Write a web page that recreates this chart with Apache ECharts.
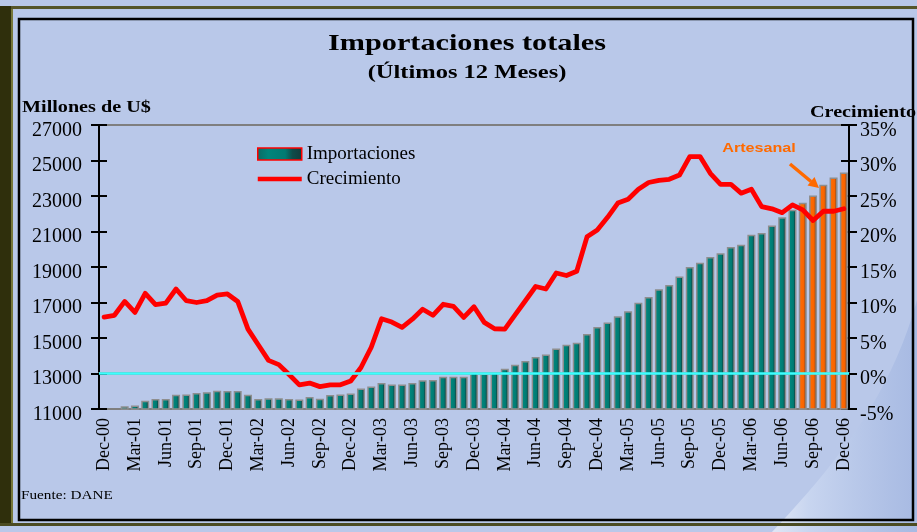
<!DOCTYPE html>
<html>
<head>
<meta charset="utf-8">
<script src="https://cdn.jsdelivr.net/npm/echarts@6/dist/echarts.min.js"></script>
<style>
html,body{margin:0;padding:0;background:#B9C8E9;}
#chart{width:917px;height:532px;}
</style>
</head>
<body>
<div id="chart"></div>
<script>
// ---- Data ----
const monthNames = ['Jan','Feb','Mar','Apr','May','Jun','Jul','Aug','Sep','Oct','Nov','Dec'];
const years = ['01','02','03','04','05','06'];
const categories = ['Dec-00'];
years.forEach(y => monthNames.forEach(m => categories.push(m + '-' + y)));

// Importaciones (millones de US$, últimos 12 meses)
const importaciones = [
  11000, 11000, 11150, 11200, 11470, 11560, 11560, 11800, 11820, 11900, 11950, 12030,
  12020, 12020, 11800, 11560, 11600, 11600, 11560, 11540, 11675, 11580, 11790, 11820,
  11880, 12160, 12270, 12460, 12385, 12385, 12460, 12620, 12630, 12820, 12820, 12820,
  13080, 13000, 13080, 13270, 13490, 13700, 13925, 14070, 14410, 14620, 14730, 15220,
  15620, 15880, 16220, 16510, 16980, 17310, 17750, 17985, 18470, 19000, 19240, 19560,
  19780, 20120, 20250, 20820, 20920, 21340, 21800, 22230, 22620, 23030, 23630, 24040,
  24320
];

// Crecimiento (%)
const crecimiento = [
  7.95, 8.2, 10.15, 8.6, 11.3, 9.7, 9.9, 11.9, 10.25, 10.0, 10.25, 11.05,
  11.2, 10.15, 6.25, 4.05, 1.85, 1.25, -0.15, -1.6, -1.35, -1.85, -1.6, -1.6,
  -1.05, 0.85, 3.7, 7.7, 7.25, 6.5, 7.65, 9.05, 8.2, 9.75, 9.45, 7.9,
  9.4, 7.2, 6.3, 6.25, 8.25, 10.25, 12.25, 11.9, 14.15, 13.8, 14.4, 19.25,
  20.2, 22.0, 24.0, 24.55, 25.95, 26.9, 27.2, 27.35, 27.95, 30.55, 30.55, 28.2,
  26.65, 26.65, 25.4, 25.95, 23.5, 23.2, 22.65, 23.75, 23.05, 21.55, 22.85, 22.85,
  23.2
];

// Months estimated "artesanal" (last months, orange)
const artesanalMonths = ['Aug-06', 'Sep-06', 'Oct-06', 'Nov-06', 'Dec-06'];

const leftTicks = { min: 11000, max: 27000, interval: 2000 };
const rightTicks = { min: -5, max: 35, interval: 5 };

// ---- Styles ----
const serif = 'Liberation Serif';
const tealGrad = { type: 'linear', x: 0, y: 0, x2: 1, y2: 0, colorStops: [
  { offset: 0, color: '#0b6a64' }, { offset: 0.25, color: '#00857b' },
  { offset: 0.62, color: '#007a72' }, { offset: 0.78, color: '#0f4c4a' }, { offset: 1, color: '#143a3a' } ] };
const orangeGrad = { type: 'linear', x: 0, y: 0, x2: 1, y2: 0, colorStops: [
  { offset: 0, color: '#e45a00' }, { offset: 0.25, color: '#ff6a00' },
  { offset: 0.62, color: '#f86400' }, { offset: 0.78, color: '#a4521c' }, { offset: 1, color: '#7c4722' } ] };

const barData = importaciones.map((v, i) => {
  if (artesanalMonths.indexOf(categories[i]) >= 0) {
    return { value: v, itemStyle: { color: orangeGrad } };
  }
  return v;
});

// decorative swoosh outline (bottom-right), sampled cubic curve
const swoosh = [];
(function () {
  const p0 = [917, 300], p1 = [890, 400], p2 = [830, 470], p3 = [772, 532];
  for (let k = 0; k <= 20; k++) {
    const t = k / 20, u = 1 - t;
    swoosh.push([
      u*u*u*p0[0] + 3*u*u*t*p1[0] + 3*u*t*t*p2[0] + t*t*t*p3[0],
      u*u*u*p0[1] + 3*u*u*t*p1[1] + 3*u*t*t*p2[1] + t*t*t*p3[1]
    ]);
  }
  swoosh.push([917, 532]);
})();

const chart = echarts.init(document.getElementById('chart'), null, { renderer: 'canvas' });

const axisLabelBase = { fontFamily: serif, fontSize: 20, color: '#000', verticalAlign: 'top', lineHeight: 11 };

const option = {
  backgroundColor: '#B9C8E9',
  animation: false,
  grid: { left: 99, right: 68, top: 125, bottom: 123, show: true,
          borderColor: '#7f7f7f', borderWidth: 2, backgroundColor: 'transparent' },
  legend: {
    orient: 'vertical', left: 252, top: 139, itemWidth: 44, itemHeight: 12, itemGap: 5,
    symbolKeepAspect: true,
    textStyle: { fontFamily: serif, fontSize: 19, color: '#000', lineHeight: 20 },
    data: [
      { name: 'Importaciones', icon: 'rect', itemStyle: { borderColor: '#ff0000', borderWidth: 1.5 } },
      { name: 'Crecimiento', icon: 'path://M0,0L44,0L44,4.5L0,4.5Z', itemStyle: { color: '#ff0000' } }
    ]
  },
  xAxis: {
    type: 'category', data: categories,
    axisLine: { lineStyle: { color: '#808080', width: 2.5 } },
    axisTick: { show: false },
    axisLabel: { interval: 2, rotate: 90, margin: 9, fontFamily: serif, fontSize: 18, color: '#000' },
    splitLine: { show: false }
  },
  yAxis: [
    { type: 'value', position: 'left', min: leftTicks.min, max: leftTicks.max, interval: leftTicks.interval,
      axisLine: { show: true, lineStyle: { color: '#000', width: 2 } },
      axisTick: { show: true, length: 8, lineStyle: { color: '#000', width: 2 } },
      axisLabel: Object.assign({ margin: 17, formatter: v => String(v) }, axisLabelBase),
      splitLine: { show: false } },
    { type: 'value', position: 'right', min: rightTicks.min, max: rightTicks.max, interval: rightTicks.interval,
      axisLine: { show: true, lineStyle: { color: '#000', width: 2 } },
      axisTick: { show: true, length: 8, lineStyle: { color: '#000', width: 2 } },
      axisLabel: Object.assign({ margin: 11, formatter: v => v + '%' }, axisLabelBase),
      splitLine: { show: false } },
    { type: 'value', position: 'left', min: leftTicks.min, max: leftTicks.max, interval: leftTicks.interval,
      axisLine: { show: false }, axisLabel: { show: false }, splitLine: { show: false },
      axisTick: { show: true, inside: true, length: 8, lineStyle: { color: '#000', width: 2 } } },
    { type: 'value', position: 'right', min: rightTicks.min, max: rightTicks.max, interval: rightTicks.interval,
      axisLine: { show: false }, axisLabel: { show: false }, splitLine: { show: false },
      axisTick: { show: true, inside: true, length: 8, lineStyle: { color: '#000', width: 2 } } }
  ],
  series: [
    { name: 'Importaciones', type: 'bar', yAxisIndex: 0, data: barData, barWidth: '78%',
      itemStyle: { color: tealGrad, borderColor: '#8e8e8e', borderWidth: 1.5 },
      markLine: { silent: true, symbol: 'none', label: { show: false },
        lineStyle: { color: '#3cffff', width: 2.5, type: 'solid' },
        data: [{ yAxis: 13000 }] } },
    { name: 'Crecimiento', type: 'line', yAxisIndex: 1, data: crecimiento, symbol: 'none', showSymbol: false,
      z: 4, lineStyle: { color: '#ff0000', width: 4.8, join: 'round', cap: 'round' },
      itemStyle: { color: '#ff0000' } }
  ],
  graphic: [
    { type: 'polygon', z: 0, silent: true, shape: { points: swoosh },
      style: { fill: { type: 'linear', x: 0, y: 0, x2: 1, y2: 0, colorStops: [
        { offset: 0, color: 'rgba(255,255,255,0.55)' }, { offset: 0.25, color: 'rgba(210,222,244,0.6)' },
        { offset: 1, color: 'rgba(150,172,220,0.5)' } ] } } },
    { type: 'rect', z: 1, silent: true, shape: { x: 0, y: 6, width: 917, height: 3 }, style: { fill: '#55552a' } },
    { type: 'rect', z: 1, silent: true, shape: { x: 0, y: 6, width: 11, height: 520 }, style: { fill: '#2f2f0c' } },
    { type: 'rect', z: 1, silent: true, shape: { x: 11, y: 9, width: 2, height: 517 }, style: { fill: '#77773a' } },
    { type: 'rect', z: 1, silent: true, shape: { x: 0, y: 523, width: 917, height: 3 }, style: { fill: '#4b4b22' } },
    { type: 'rect', z: 1, silent: true, shape: { x: 19, y: 19, width: 894, height: 501 },
      style: { fill: 'none', stroke: '#000', lineWidth: 2.5 } },
    { type: 'text', z: 10, x: 467, y: 44, scaleX: 1.26,
      style: { text: 'Importaciones totales', fontFamily: serif, fontWeight: 'bold', fontSize: 24, fill: '#000',
               align: 'center', verticalAlign: 'middle' } },
    { type: 'text', z: 10, x: 467, y: 73, scaleX: 1.29,
      style: { text: '(Últimos 12 Meses)', fontFamily: serif, fontWeight: 'bold', fontSize: 19, fill: '#000',
               align: 'center', verticalAlign: 'middle' } },
    { type: 'text', z: 10, x: 22, y: 108, scaleX: 1.26,
      style: { text: 'Millones de U$', fontFamily: serif, fontWeight: 'bold', fontSize: 16, fill: '#000',
               align: 'left', verticalAlign: 'middle' } },
    { type: 'text', z: 10, x: 810, y: 113, scaleX: 1.26,
      style: { text: 'Crecimiento', fontFamily: serif, fontWeight: 'bold', fontSize: 16, fill: '#000',
               align: 'left', verticalAlign: 'middle' } },
    { type: 'text', z: 10, x: 21, y: 496, scaleX: 1.27,
      style: { text: 'Fuente: DANE', fontFamily: serif, fontSize: 12, fill: '#000',
               align: 'left', verticalAlign: 'middle' } },
    { type: 'text', z: 10, x: 759, y: 148, scaleX: 1.24,
      style: { text: 'Artesanal', fontFamily: 'Liberation Sans', fontWeight: 'bold', fontSize: 13, fill: '#ff6a00',
               align: 'center', verticalAlign: 'middle' } },
    { type: 'line', z: 10, silent: true, shape: { x1: 790, y1: 164, x2: 811, y2: 181.5 },
      style: { stroke: '#ff6a00', lineWidth: 3.5 } },
    { type: 'polygon', z: 10, silent: true, shape: { points: [[819, 188], [807.5, 185.5], [814.5, 177]] },
      style: { fill: '#ff6a00' } }
  ]
};

chart.setOption(option);
</script>
</body>
</html>
